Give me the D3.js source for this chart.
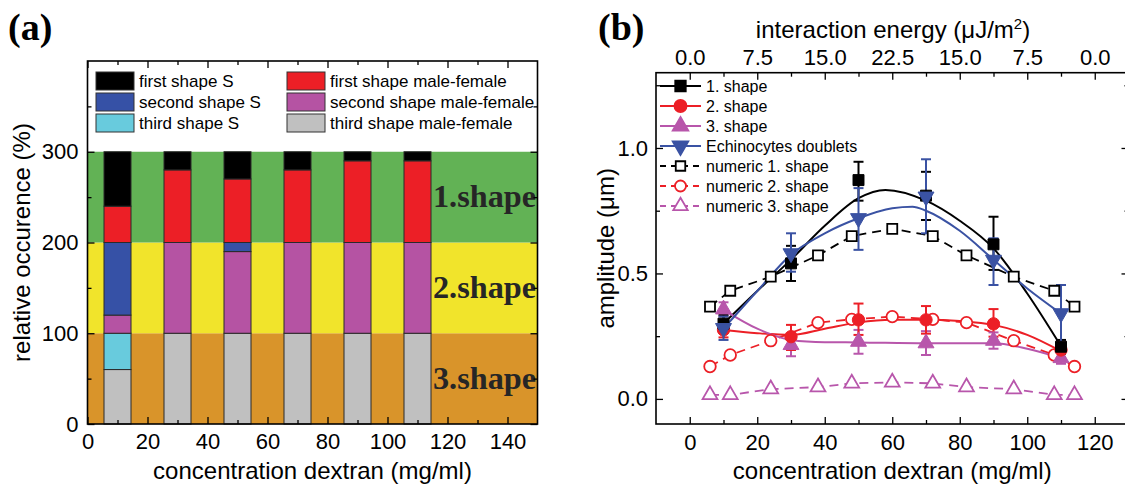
<!DOCTYPE html>
<html><head><meta charset="utf-8">
<script src="https://cdn.jsdelivr.net/npm/d3@7"></script>
<style>
html,body{margin:0;padding:0;background:#fff;}
svg{display:block;font-family:"Liberation Sans",Arial,sans-serif;}
</style></head>
<body>
<svg id="chart" width="1125" height="488"></svg>
<script>
// ---------- Panel (a) data ----------
const concA = [10, 30, 50, 70, 90, 110];
const thirdMF  = [60, 100, 100, 100, 100, 100];
const thirdS   = [40, 0, 0, 0, 0, 0];
const secondMF = [20, 100, 90, 100, 100, 100];
const secondS  = [80, 0, 10, 0, 0, 0];
const firstMF  = [40, 80, 70, 80, 90, 90];
const firstS   = [60, 20, 30, 20, 10, 10];
const stackKeys = ["thirdMF","thirdS","secondMF","secondS","firstMF","firstS"];
const stackNames = {firstS:"first shape S", secondS:"second shape S", thirdS:"third shape S",
  firstMF:"first shape male-female", secondMF:"second shape male-female", thirdMF:"third shape male-female"};
const stackColors = {firstS:"#000000", secondS:"#3651a6", thirdS:"#68cbdd",
  firstMF:"#ec1f26", secondMF:"#b553a3", thirdMF:"#c0c0c0"};
const bandLow = [0, 100, 200];
const bandHigh = [100, 200, 300];
const bandLabels = ["3.shape", "2.shape", "1.shape"];
const bandColors = ["#d9942a", "#f1e42b", "#62b255"];
const xTicksA = [0, 20, 40, 60, 80, 100, 120, 140];
const yTicksA = [0, 100, 200, 300];

// ---------- Panel (b) data ----------
const concB = [10, 30, 50, 70, 90, 110];
const shape1 = [0.300, 0.540, 0.872, 0.810, 0.616, 0.208];
const shape1Lo = [0.265, 0.470, 0.790, 0.713, 0.514, 0.180];
const shape1Hi = [0.335, 0.610, 0.945, 0.905, 0.726, 0.235];
const shape2 = [0.275, 0.248, 0.315, 0.315, 0.299, 0.195];
const shape2Lo = [0.245, 0.195, 0.255, 0.260, 0.248, 0.165];
const shape2Hi = [0.305, 0.295, 0.380, 0.370, 0.358, 0.225];
const shape3 = [0.357, 0.215, 0.228, 0.222, 0.232, 0.163];
const shape3Lo = [0.330, 0.170, 0.180, 0.175, 0.200, 0.140];
const shape3Hi = [0.385, 0.255, 0.275, 0.270, 0.265, 0.185];
const echino = [0.282, 0.580, 0.720, 0.806, 0.554, 0.341];
const echinoLo = [0.235, 0.507, 0.594, 0.660, 0.454, 0.208];
const echinoHi = [0.328, 0.660, 0.840, 0.955, 0.640, 0.454];
// fitted curves
const fit1X = [10, 20, 30, 40, 50, 58, 70, 80, 90, 100, 110];
const fit1Y = [0.30, 0.43, 0.555, 0.69, 0.80, 0.833, 0.79, 0.71, 0.60, 0.42, 0.21];
const fit2X = [10, 20, 30, 40, 50, 60, 70, 80, 90, 100, 110];
const fit2Y = [0.275, 0.262, 0.255, 0.28, 0.305, 0.315, 0.315, 0.31, 0.295, 0.255, 0.19];
const fit3X = [10, 20, 30, 40, 50, 70, 90, 100, 110];
const fit3Y = [0.355, 0.28, 0.235, 0.226, 0.225, 0.222, 0.222, 0.20, 0.163];
const fitEX = [10, 20, 30, 40, 50, 60, 66, 70, 80, 90, 100, 110];
const fitEY = [0.28, 0.43, 0.575, 0.66, 0.72, 0.76, 0.766, 0.75, 0.67, 0.555, 0.44, 0.34];
// numeric results
const numX = [6, 12, 24, 38, 48, 60, 72, 82, 96, 108, 114];
const num1 = [0.368, 0.431, 0.487, 0.572, 0.649, 0.678, 0.649, 0.572, 0.487, 0.431, 0.368];
const num2 = [0.129, 0.175, 0.232, 0.304, 0.317, 0.328, 0.317, 0.304, 0.232, 0.175, 0.129];
const num3 = [0.016, 0.016, 0.039, 0.047, 0.062, 0.066, 0.062, 0.047, 0.039, 0.016, 0.016];
const xTicksB = [0, 20, 40, 60, 80, 100, 120];
const energyLabels = ["0.0", "7.5", "15.0", "22.5", "15.0", "7.5", "0.0"];
const yTicksB = [0, 0.5, 1.0];
const legendB = ["1. shape", "2. shape", "3. shape", "Echinocytes doublets",
  "numeric 1. shape", "numeric 2. shape", "numeric 3. shape"];

const svg = d3.select("#chart");
const FONT = '"Liberation Sans",Arial,sans-serif';
const SERIF = '"Liberation Serif","Times New Roman",serif';

function styleAxis(g, fs) {
  g.select(".domain").remove();
  g.selectAll(".tick line").attr("stroke", "#000").attr("stroke-width", 1.3);
  g.selectAll(".tick text").attr("font-size", fs).attr("font-family", FONT).attr("fill", "#000");
}

// ================= PANEL (a) =================
const xA = d3.scaleLinear().domain([0, 150]).range([87.5, 537.5]);
const yA = d3.scaleLinear().domain([0, 400]).range([424, 61]);
const gA = svg.append("g");

// background bands
gA.selectAll("rect.band").data(bandLow).join("rect")
  .attr("x", xA(0)).attr("width", xA(150) - xA(0))
  .attr("y", (d, i) => yA(bandHigh[i])).attr("height", (d, i) => yA(d) - yA(bandHigh[i]))
  .attr("fill", (d, i) => bandColors[i]);

// stacked bars
const rows = concA.map((c, i) => ({c, thirdMF: thirdMF[i], thirdS: thirdS[i], secondMF: secondMF[i],
  secondS: secondS[i], firstMF: firstMF[i], firstS: firstS[i]}));
const stacked = d3.stack().keys(stackKeys)(rows);
const barW = 9;
stacked.forEach(layer => {
  gA.selectAll(null).data(layer.filter(d => d[1] - d[0] > 0)).join("rect")
    .attr("x", d => xA(d.data.c - barW / 2)).attr("width", xA(barW) - xA(0))
    .attr("y", d => yA(d[1])).attr("height", d => yA(d[0]) - yA(d[1]))
    .attr("fill", stackColors[layer.key]).attr("stroke", "#2a2a2a").attr("stroke-width", 1);
});

// band labels
gA.selectAll("text.bandlab").data(bandLabels).join("text")
  .attr("x", 433).attr("y", (d, i) => yA((bandLow[i] + bandHigh[i]) / 2) + 10)
  .attr("font-family", SERIF).attr("font-weight", "bold").attr("font-size", 32)
  .attr("textLength", 103).attr("lengthAdjust", "spacingAndGlyphs")
  .attr("fill", "#262626").text(d => d);

// axes
const minorXA = d3.range(10, 150, 20);
const minorYA = [50, 150, 250, 350];
gA.append("g").attr("transform", `translate(0,${yA(0)})`)
  .call(d3.axisBottom(xA).tickValues(xTicksA).tickFormat(d3.format("d")).tickSizeInner(-7).tickSizeOuter(0).tickPadding(9))
  .call(g => styleAxis(g, 22));
gA.append("g").attr("transform", `translate(0,${yA(0)})`)
  .call(d3.axisBottom(xA).tickValues(minorXA).tickFormat("").tickSizeInner(-4).tickSizeOuter(0))
  .call(g => styleAxis(g, 22));
gA.append("g").attr("transform", `translate(0,${yA(400)})`)
  .call(d3.axisTop(xA).tickValues(xTicksA).tickFormat("").tickSizeInner(-7).tickSizeOuter(0))
  .call(g => styleAxis(g, 22));
gA.append("g").attr("transform", `translate(0,${yA(400)})`)
  .call(d3.axisTop(xA).tickValues(minorXA).tickFormat("").tickSizeInner(-4).tickSizeOuter(0))
  .call(g => styleAxis(g, 22));
gA.append("g").attr("transform", `translate(${xA(0)},0)`)
  .call(d3.axisLeft(yA).tickValues(yTicksA).tickFormat(d3.format("d")).tickSizeInner(-7).tickSizeOuter(0).tickPadding(9))
  .call(g => styleAxis(g, 22));
gA.append("g").attr("transform", `translate(${xA(0)},0)`)
  .call(d3.axisLeft(yA).tickValues(minorYA).tickFormat("").tickSizeInner(-4).tickSizeOuter(0))
  .call(g => styleAxis(g, 22));
gA.append("g").attr("transform", `translate(${xA(150)},0)`)
  .call(d3.axisRight(yA).tickValues(yTicksA).tickFormat("").tickSizeInner(-7).tickSizeOuter(0))
  .call(g => styleAxis(g, 22));
gA.append("g").attr("transform", `translate(${xA(150)},0)`)
  .call(d3.axisRight(yA).tickValues(minorYA).tickFormat("").tickSizeInner(-4).tickSizeOuter(0))
  .call(g => styleAxis(g, 22));

gA.append("rect").attr("x", xA(0)).attr("y", yA(400)).attr("width", xA(150) - xA(0)).attr("height", yA(0) - yA(400))
  .attr("fill", "none").attr("stroke", "#000").attr("stroke-width", 1.6);

// legend (a)
const legKeysA = [["firstS", "firstMF"], ["secondS", "secondMF"], ["thirdS", "thirdMF"]];
legKeysA.forEach((pair, r) => {
  pair.forEach((k, c) => {
    const sx = c === 0 ? 96 : 287;
    const sy = 72 + r * 21;
    gA.append("rect").attr("x", sx).attr("y", sy).attr("width", 38).attr("height", 18)
      .attr("fill", stackColors[k]).attr("stroke", "#333").attr("stroke-width", 1);
    gA.append("text").attr("x", sx + 43).attr("y", sy + 15).attr("font-size", 17)
      .attr("font-family", FONT).text(stackNames[k]);
  });
});

// titles (a)
gA.append("text").attr("x", xA(75)).attr("y", 479).attr("text-anchor", "middle")
  .attr("font-size", 24).attr("font-family", FONT).text("concentration dextran (mg/ml)");
gA.append("text").attr("transform", `translate(30,${(yA(0) + yA(400)) / 2}) rotate(-90)`)
  .attr("text-anchor", "middle").attr("font-size", 24).attr("font-family", FONT).text("relative occurence (%)");
svg.append("text").attr("x", 8).attr("y", 40).attr("font-family", SERIF).attr("font-weight", "bold")
  .attr("font-size", 38).text("(a)");

// ================= PANEL (b) =================
const xB = d3.scaleLinear().domain([-10, 130]).range([656, 1128.5]);
const yB = d3.scaleLinear().domain([-0.1, 1.3]).range([424, 72.7]);
const gB = svg.append("g");
const RED = "#ec1f26", MAG = "#b856ab", BLUE = "#3a52a3";

const minorXB = [10, 30, 50, 70, 90, 110];
const minorYB = [0.25, 0.75, 1.25];
gB.append("g").attr("transform", `translate(0,${yB(-0.1)})`)
  .call(d3.axisBottom(xB).tickValues(xTicksB).tickFormat(d3.format("d")).tickSizeInner(-7).tickSizeOuter(0).tickPadding(10))
  .call(g => styleAxis(g, 22));
gB.append("g").attr("transform", `translate(0,${yB(-0.1)})`)
  .call(d3.axisBottom(xB).tickValues(minorXB).tickFormat("").tickSizeInner(-4).tickSizeOuter(0))
  .call(g => styleAxis(g, 22));
gB.append("g").attr("transform", `translate(0,${yB(1.3)})`)
  .call(d3.axisTop(xB).tickValues(xTicksB).tickFormat((d, i) => energyLabels[i]).tickSizeInner(-7).tickSizeOuter(0).tickPadding(8))
  .call(g => styleAxis(g, 22));
gB.append("g").attr("transform", `translate(0,${yB(1.3)})`)
  .call(d3.axisTop(xB).tickValues(minorXB).tickFormat("").tickSizeInner(-4).tickSizeOuter(0))
  .call(g => styleAxis(g, 22));
gB.append("g").attr("transform", `translate(${xB(-10)},0)`)
  .call(d3.axisLeft(yB).tickValues(yTicksB).tickFormat(d3.format(".1f")).tickSizeInner(-7).tickSizeOuter(0).tickPadding(8))
  .call(g => styleAxis(g, 22));
gB.append("g").attr("transform", `translate(${xB(-10)},0)`)
  .call(d3.axisLeft(yB).tickValues(minorYB).tickFormat("").tickSizeInner(-4).tickSizeOuter(0))
  .call(g => styleAxis(g, 22));
gB.append("g").attr("transform", `translate(${xB(130)},0)`)
  .call(d3.axisRight(yB).tickValues(yTicksB).tickFormat("").tickSizeInner(-7).tickSizeOuter(0))
  .call(g => styleAxis(g, 22));
gB.append("g").attr("transform", `translate(${xB(130)},0)`)
  .call(d3.axisRight(yB).tickValues(minorYB).tickFormat("").tickSizeInner(-4).tickSizeOuter(0))
  .call(g => styleAxis(g, 22));
gB.append("rect").attr("x", xB(-10)).attr("y", yB(1.3)).attr("width", xB(130) - xB(-10)).attr("height", yB(-0.1) - yB(1.3))
  .attr("fill", "none").attr("stroke", "#000").attr("stroke-width", 1.6);

const sym = (type, size) => d3.symbol().type(type).size(size)();
const line = d3.line().x(d => xB(d[0])).y(d => yB(d[1]));
const curve = d3.line().x(d => xB(d[0])).y(d => yB(d[1])).curve(d3.curveMonotoneX);
const zip = (a, b) => a.map((v, i) => [v, b[i]]);
const DASH = "9,6";

// numeric dashed lines
[[num1, "#000"], [num2, RED], [num3, MAG]].forEach(([arr, col]) => {
  gB.append("path").attr("d", line(zip(numX, arr))).attr("fill", "none").attr("stroke", col)
    .attr("stroke-width", 1.8).attr("stroke-dasharray", DASH);
});
// fits
[[fit1X, fit1Y, "#000"], [fit2X, fit2Y, RED], [fit3X, fit3Y, MAG], [fitEX, fitEY, BLUE]].forEach(([xs, ys, col]) => {
  gB.append("path").attr("d", curve(zip(xs, ys))).attr("fill", "none").attr("stroke", col).attr("stroke-width", 2);
});
// error bars
function errBars(vals, lo, hi, col) {
  const g = gB.append("g").attr("stroke", col).attr("stroke-width", 2);
  concB.forEach((c, i) => {
    g.append("line").attr("x1", xB(c)).attr("x2", xB(c)).attr("y1", yB(lo[i])).attr("y2", yB(hi[i]));
    [lo[i], hi[i]].forEach(v => g.append("line").attr("x1", xB(c) - 5).attr("x2", xB(c) + 5).attr("y1", yB(v)).attr("y2", yB(v)));
  });
}
errBars(shape3, shape3Lo, shape3Hi, MAG);
errBars(shape2, shape2Lo, shape2Hi, RED);
errBars(shape1, shape1Lo, shape1Hi, "#000");
errBars(echino, echinoLo, echinoHi, BLUE);

// open markers (numeric)
function openMarkers(arr, type, size, col, rot) {
  gB.selectAll(null).data(zip(numX, arr)).join("path")
    .attr("d", sym(type, size)).attr("transform", d => `translate(${xB(d[0])},${yB(d[1])})${rot || ""}`)
    .attr("fill", "#fff").attr("stroke", col).attr("stroke-width", 1.8);
}
openMarkers(num1, d3.symbolSquare, 100, "#000");
openMarkers(num2, d3.symbolCircle, 105, RED);
openMarkers(num3, d3.symbolTriangle, 95, MAG);

// filled markers
function filledMarkers(vals, type, size, col, rot) {
  gB.selectAll(null).data(zip(concB, vals)).join("path")
    .attr("d", sym(type, size)).attr("transform", d => `translate(${xB(d[0])},${yB(d[1])})${rot || ""}`)
    .attr("fill", col).attr("stroke", col).attr("stroke-width", 1);
}
filledMarkers(shape3, d3.symbolTriangle, 110, MAG);
filledMarkers(shape2, d3.symbolCircle, 120, RED);
filledMarkers(shape1, d3.symbolSquare, 120, "#000");
filledMarkers(echino, d3.symbolTriangle, 110, BLUE, " rotate(180)");

// legend (b)
const legStyle = [
  {col: "#000", type: d3.symbolSquare, size: 110, fill: true, dash: null},
  {col: RED, type: d3.symbolCircle, size: 115, fill: true, dash: null},
  {col: MAG, type: d3.symbolTriangle, size: 105, fill: true, dash: null},
  {col: BLUE, type: d3.symbolTriangle, size: 105, fill: true, dash: null, rot: " rotate(180)"},
  {col: "#000", type: d3.symbolSquare, size: 90, fill: false, dash: "6,5"},
  {col: RED, type: d3.symbolCircle, size: 95, fill: false, dash: "6,5"},
  {col: MAG, type: d3.symbolTriangle, size: 90, fill: false, dash: "6,5"}
];
legendB.forEach((lab, i) => {
  const y = 86 + i * 20;
  const s = legStyle[i];
  gB.append("line").attr("x1", 660).attr("x2", 701).attr("y1", y).attr("y2", y)
    .attr("stroke", s.col).attr("stroke-width", 1.8).attr("stroke-dasharray", s.dash);
  gB.append("path").attr("d", sym(s.type, s.size)).attr("transform", `translate(680.5,${y})${s.rot || ""}`)
    .attr("fill", s.fill ? s.col : "#fff").attr("stroke", s.col).attr("stroke-width", 1.8);
  gB.append("text").attr("x", 706).attr("y", y + 6).attr("font-size", 16).attr("font-family", FONT).text(lab);
});

// titles (b)
gB.append("text").attr("x", xB(60)).attr("y", 479).attr("text-anchor", "middle")
  .attr("font-size", 24).attr("font-family", FONT).text("concentration dextran (mg/ml)");
gB.append("text").attr("transform", `translate(614,${(yB(-0.1) + yB(1.3)) / 2}) rotate(-90)`)
  .attr("text-anchor", "middle").attr("font-size", 24).attr("font-family", FONT).text("amplitude (\u03bcm)");
const tt = gB.append("text").attr("x", 893).attr("y", 38).attr("text-anchor", "middle")
  .attr("font-size", 24).attr("font-family", FONT);
tt.append("tspan").text("interaction energy (\u03bcJ/m");
tt.append("tspan").attr("font-size", 15).attr("dy", -9).text("2");
tt.append("tspan").attr("dy", 9).text(")");
svg.append("text").attr("x", 598).attr("y", 40).attr("font-family", SERIF).attr("font-weight", "bold")
  .attr("font-size", 38).text("(b)");
</script>
</body></html>
